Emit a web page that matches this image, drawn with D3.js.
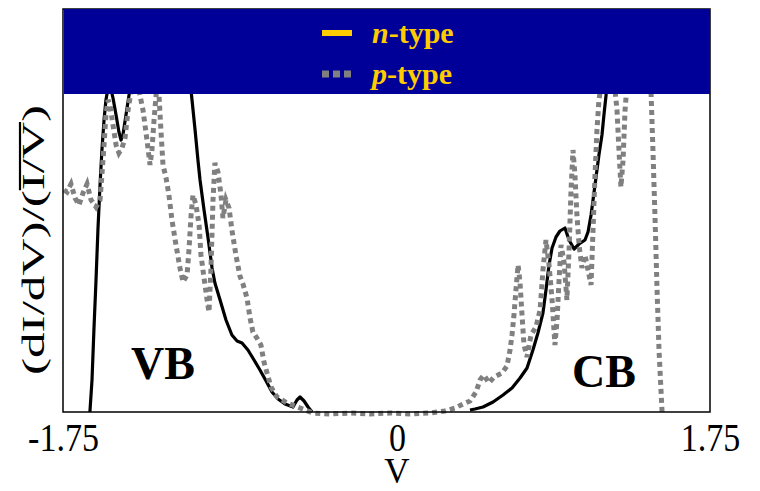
<!DOCTYPE html>
<html>
<head>
<meta charset="utf-8">
<script src="https://cdn.jsdelivr.net/npm/d3@7"></script>
<style>
  html, body { margin: 0; padding: 0; background: #fff; }
  svg { display: block; }
  text { font-family: "Liberation Serif", "Times New Roman", serif; }
</style>
</head>
<body>
<svg id="chart" width="760" height="491"></svg>
<script>
// ---------------- data ----------------
const V_TICKS = [-1.75, 0, 1.75];
const V_TICK_LABELS = ["-1.75", "0", "1.75"];
const SERIES_NAMES = ["n-type", "p-type"];
const BAND_LABELS = ["VB", "CB"];

// n-type (solid black); null marks the gap where no n-type trace is drawn
const nVolt = [-1.609,-1.598,-1.588,-1.577,-1.567,-1.556,-1.546,-1.535,-1.525,-1.514,-1.504,-1.488,-1.472,-1.457,-1.446,-1.436,-1.420,-1.404,-1.388,-1.347,-1.242,-1.137,-1.085,-1.074,-1.058,-1.043,-1.032,-1.011,-0.990,-0.969,-0.954,-0.927,-0.896,-0.865,-0.838,-0.812,-0.781,-0.749,-0.718,-0.686,-0.655,-0.623,-0.587,-0.545,-0.524,-0.508,-0.487,-0.466,-0.445,
  0.0,
  0.408,0.436,0.481,0.537,0.593,0.643,0.688,0.727,0.760,0.788,0.816,0.833,0.850,0.867,0.889,0.911,0.939,0.962,0.990,1.018,1.051,1.068,1.085,1.107,1.129,1.146,1.157,1.169,1.174,1.191];
const nCond = [0.00,0.32,0.82,1.32,1.82,2.27,2.62,2.92,3.12,3.24,3.27,3.14,2.97,2.80,2.72,2.77,2.97,3.17,3.32,3.72,3.92,3.72,3.32,3.12,2.82,2.52,2.32,2.02,1.74,1.44,1.29,1.12,0.92,0.77,0.71,0.69,0.62,0.52,0.42,0.31,0.20,0.13,0.08,0.05,0.12,0.15,0.11,0.05,0.00,
  null,
  0.02,0.03,0.05,0.10,0.17,0.24,0.34,0.44,0.62,0.79,0.99,1.22,1.47,1.64,1.75,1.81,1.84,1.72,1.63,1.68,1.72,1.80,1.97,2.27,2.57,2.77,2.97,3.17,3.32,3.72];

// p-type (dotted grey)
const pVolt = [-1.745,-1.729,-1.708,-1.687,-1.666,-1.645,-1.624,-1.603,-1.577,-1.556,-1.546,-1.535,-1.525,-1.514,-1.504,-1.488,-1.472,-1.457,-1.441,-1.425,-1.409,-1.394,-1.373,-1.347,-1.331,-1.310,-1.294,-1.284,-1.273,-1.263,-1.252,-1.247,-1.237,-1.226,-1.210,-1.195,-1.179,-1.158,-1.137,-1.121,-1.100,-1.090,-1.079,-1.069,-1.053,-1.037,-1.027,-1.011,-0.995,-0.985,-0.975,-0.964,-0.954,-0.938,-0.922,-0.912,-0.896,-0.880,-0.865,-0.844,-0.823,-0.807,-0.786,-0.770,-0.755,-0.734,-0.713,-0.697,-0.681,-0.660,-0.629,-0.576,-0.508,-0.440,-0.351,-0.246,-0.141,-0.037,0.073,0.185,0.268,0.324,0.369,0.408,0.442,0.464,0.486,0.514,0.542,0.587,0.615,0.632,0.643,0.654,0.665,0.677,0.688,0.699,0.710,0.727,0.749,0.777,0.800,0.816,0.833,0.850,0.867,0.883,0.895,0.906,0.917,0.934,0.950,0.962,0.973,0.984,0.995,1.006,1.018,1.034,1.051,1.068,1.085,1.096,1.107,1.118,1.129,1.146,1.191,1.219,1.230,1.241,1.252,1.264,1.275,1.286,1.331,1.387,1.420,1.431,1.443,1.454,1.465,1.482];
const pCond = [2.22,2.20,2.28,2.14,2.07,2.19,2.28,2.12,2.05,2.12,2.37,2.67,2.97,3.12,3.07,2.87,2.67,2.59,2.64,2.74,3.02,3.20,3.42,3.17,3.02,2.72,2.47,2.62,2.92,3.15,3.42,3.17,2.82,2.47,2.34,2.17,1.92,1.67,1.44,1.30,1.37,1.62,1.97,2.17,2.07,1.87,1.57,1.34,1.12,1.00,1.42,2.12,2.49,2.40,2.17,1.94,2.12,2.04,1.82,1.57,1.36,1.28,1.14,0.94,0.80,0.74,0.67,0.50,0.39,0.25,0.15,0.09,0.04,-0.01,-0.02,-0.01,-0.02,-0.01,-0.02,-0.01,0.01,0.04,0.08,0.11,0.20,0.32,0.37,0.29,0.35,0.39,0.46,0.62,0.77,0.97,1.22,1.47,1.29,0.97,0.67,0.55,0.77,0.85,1.02,1.42,1.72,1.47,1.12,0.67,0.92,1.32,1.67,1.50,1.12,1.62,2.22,2.62,2.37,1.97,1.67,1.44,1.57,1.42,1.27,1.82,2.37,2.82,3.12,3.32,3.52,3.22,3.02,2.62,2.25,2.52,3.02,3.27,3.52,3.42,3.22,2.62,1.92,1.22,0.62,0.00];

// ---------------- layout ----------------
const svg = d3.select("#chart");
const plot = { left: 63, right: 710, top: 9, bottom: 412 };

const x = d3.scaleLinear()
  .domain([V_TICKS[0], V_TICKS[1], V_TICKS[2]])
  .range([plot.left, 397, plot.right]);
const y = d3.scaleLinear().domain([0, 4]).range([plot.bottom, plot.bottom - 400]);

const defs = svg.append("defs");
defs.append("clipPath").attr("id", "plotClip")
  .append("rect")
  .attr("x", plot.left).attr("y", plot.top)
  .attr("width", plot.right - plot.left).attr("height", plot.bottom - plot.top + 5);

const nData = nVolt.map((v, i) => ({ v, g: nCond[i] }));
const pData = pVolt.map((v, i) => ({ v, g: pCond[i] }));

const line = d3.line()
  .defined(d => d.g !== null)
  .x(d => x(d.v)).y(d => y(d.g));

const g = svg.append("g").attr("clip-path", "url(#plotClip)");

g.append("path").datum(nData)
  .attr("d", line)
  .attr("fill", "none")
  .attr("stroke", "#000")
  .attr("stroke-width", 3.2)
  .attr("stroke-linejoin", "round");

g.append("path").datum(pData)
  .attr("d", line)
  .attr("fill", "none")
  .attr("stroke", "#808080")
  .attr("stroke-width", 5)
  .attr("stroke-dasharray", "5 4");

// frame
svg.append("rect")
  .attr("x", plot.left).attr("y", plot.top)
  .attr("width", plot.right - plot.left).attr("height", plot.bottom - plot.top)
  .attr("fill", "none").attr("stroke", "#000").attr("stroke-width", 1.5);

// x axis
const TICK_STRETCH = 1.17;
const xAxis = d3.axisBottom(x)
  .tickValues(V_TICKS)
  .tickSize(0)
  .tickPadding(0)
  .tickFormat((d, i) => V_TICK_LABELS[i]);
const ax = svg.append("g").attr("transform", `translate(0,${plot.bottom})`).call(xAxis);
ax.select(".domain").remove();
ax.selectAll("text")
  .attr("dy", null)
  .attr("y", 39 / TICK_STRETCH)
  .attr("transform", `scale(1,${TICK_STRETCH})`)
  .attr("fill", "#000")
  .style("font-size", "34px")
  .style("font-family", '"Liberation Serif", "Times New Roman", serif');

svg.append("text")
  .attr("x", 397).attr("y", 483)
  .attr("text-anchor", "middle")
  .style("font-size", "35px")
  .text("V");

// y label (stretched along its length, as in the reference)
const yl = svg.append("g").attr("transform", "translate(44,240) rotate(-90) scale(1.6,1)");
const ylt = yl.append("text")
  .attr("x", 0).attr("y", 0)
  .attr("text-anchor", "middle")
  .style("font-size", "32px")
  .text("(dI/dV)/(I/V)");
// overline over "I/V"
{
  const node = ylt.node();
  const full = "(dI/dV)/(I/V)";
  const start = full.indexOf("I/V", 8);
  const s = node.getStartPositionOfChar(start).x;
  const e = node.getEndPositionOfChar(start + 2).x;
  yl.append("line")
    .attr("x1", s).attr("x2", e)
    .attr("y1", -24).attr("y2", -24)
    .attr("stroke", "#000").attr("stroke-width", 2.2);
}

// band labels
svg.append("text").attr("x", 131).attr("y", 379)
  .style("font-size", "46px").style("font-weight", "bold").text(BAND_LABELS[0]);
svg.append("text").attr("x", 572).attr("y", 387)
  .style("font-size", "46px").style("font-weight", "bold").text(BAND_LABELS[1]);

// legend
const leg = svg.append("g");
leg.append("rect")
  .attr("x", plot.left + 1).attr("y", plot.top)
  .attr("width", plot.right - plot.left - 1).attr("height", 85)
  .attr("fill", "#000099");
const legRows = [
  { name: SERIES_NAMES[0], y: 33, stroke: "#FFCC00", dash: null, w: 6 },
  { name: SERIES_NAMES[1], y: 74, stroke: "#808080", dash: "7 4", w: 7 }
];
legRows.forEach(r => {
  leg.append("line")
    .attr("x1", 322).attr("x2", 352)
    .attr("y1", r.y).attr("y2", r.y)
    .attr("stroke", r.stroke).attr("stroke-width", r.w)
    .attr("stroke-dasharray", r.dash);
  const t = leg.append("text")
    .attr("x", 372).attr("y", r.y + 10)
    .attr("fill", "#FFCC00")
    .style("font-size", "30px").style("font-weight", "bold");
  const [first, rest] = [r.name.slice(0, 1), r.name.slice(1)];
  t.append("tspan").style("font-style", "italic").text(first);
  t.append("tspan").text(rest);
});
</script>
</body>
</html>
